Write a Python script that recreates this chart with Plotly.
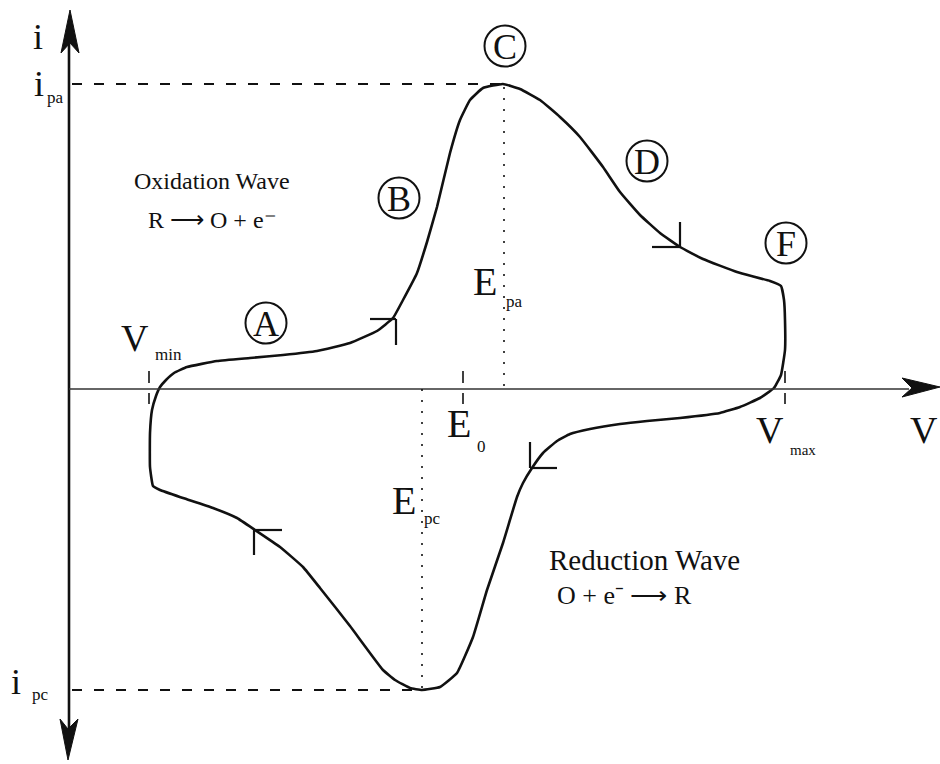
import plotly.graph_objects as go

# Cyclic voltammogram (schematic units)
scan_v = [0.84, 0.81, 0.81, 0.83, 0.87, 0.91, 0.97, 1.05, 1.18, 1.48, 1.81, 2.14, 2.48, 2.81,
          3.08, 3.24, 3.34, 3.48, 3.58, 3.68, 3.81, 3.91, 4.01, 4.14, 4.34, 4.51, 4.71, 4.91,
          5.11, 5.34, 5.51, 5.71, 5.91, 6.11, 6.34, 6.68, 7.01, 7.12, 7.15, 7.16, 7.16, 7.12,
          7.05, 6.91, 6.71, 6.51, 6.11, 5.78, 5.51, 5.21, 5.01, 4.88, 4.74, 4.63, 4.54, 4.48,
          4.34, 4.18, 4.04, 3.88, 3.71, 3.53, 3.41, 3.26, 3.14, 2.81, 2.51, 2.34, 2.11, 1.86,
          1.68, 1.44, 1.14, 0.91, 0.84]
scan_i = [-0.97, -0.78, -0.44, -0.21, -0.07, 0.02, 0.09, 0.16, 0.22, 0.28, 0.31, 0.34, 0.38, 0.46,
          0.58, 0.71, 0.89, 1.16, 1.47, 1.82, 2.36, 2.69, 2.89, 3.01, 3.05, 3.00, 2.89, 2.72,
          2.52, 2.22, 1.97, 1.74, 1.56, 1.42, 1.30, 1.17, 1.08, 1.03, 0.89, 0.69, 0.39, 0.14,
          0.01, -0.09, -0.18, -0.24, -0.29, -0.32, -0.35, -0.40, -0.45, -0.52, -0.64, -0.79, -0.94, -1.08,
          -1.54, -2.01, -2.48, -2.84, -2.98, -3.01, -2.99, -2.91, -2.81, -2.37, -1.99, -1.78, -1.58, -1.41,
          -1.29, -1.19, -1.09, -1.01, -0.97]

V_MIN = 0.80
V_MAX = 7.16
E_0 = 3.94
E_PA = 4.34
E_PC = 3.53
I_PA = 3.05
I_PC = -3.01

# Circled stage labels: letter, V, i
stage_letters = ["A", "B", "C", "D", "F"]
stage_v = [1.97, 3.30, 4.36, 5.78, 7.17]
stage_i = [0.66, 1.91, 3.43, 2.28, 1.46]

# Scan-direction markers: corner point and the two arm ends
dir_corner = [(3.27, 0.70), (6.11, 1.42), (4.61, -0.79), (1.85, -1.41)]
dir_arm_h = [(3.01, 0.70), (5.83, 1.42), (4.88, -0.79), (2.13, -1.41)]
dir_arm_v = [(3.27, 0.44), (6.11, 1.67), (4.61, -0.53), (1.85, -1.66)]

SERIF = "Liberation Serif, Times New Roman, serif"
INK = "#111111"

fig = go.Figure()
fig.add_trace(go.Scatter(x=scan_v, y=scan_i, mode="lines",
                         line=dict(color=INK, width=2.6, shape="spline", smoothing=0.35),
                         hoverinfo="skip", showlegend=False))

shapes = []
# axes
shapes.append(dict(type="line", x0=0, x1=0, y0=3.45, y1=-3.40, line=dict(color=INK, width=2.6)))
shapes.append(dict(type="line", x0=0, x1=8.40, y0=0, y1=0, line=dict(color="#333333", width=1.6)))
shapes.append(dict(type="path", path="M 0.01 3.79 L -0.08 3.36 L 0.01 3.46 L 0.10 3.36 Z",
                   fillcolor=INK, line=dict(color=INK, width=1)))
shapes.append(dict(type="path", path="M -0.01 -3.71 L -0.09 -3.30 L -0.01 -3.40 L 0.09 -3.30 Z",
                   fillcolor=INK, line=dict(color=INK, width=1)))
shapes.append(dict(type="path", path="M 8.71 0.02 L 8.33 0.11 L 8.43 0.01 L 8.33 -0.08 Z",
                   fillcolor=INK, line=dict(color=INK, width=1)))

# peak current guides
shapes.append(dict(type="line", x0=0.03, x1=E_PA, y0=I_PA, y1=I_PA,
                   line=dict(color=INK, width=1.8, dash="10px,12px")))
shapes.append(dict(type="line", x0=0.03, x1=E_PC - 0.05, y0=I_PC, y1=I_PC,
                   line=dict(color=INK, width=1.8, dash="10px,12px")))
# peak potential guides
shapes.append(dict(type="line", x0=E_PA + 0.01, x1=E_PA + 0.01, y0=I_PA - 0.03, y1=0,
                   line=dict(color=INK, width=1.6, dash="2px,9px")))
shapes.append(dict(type="line", x0=E_PC, x1=E_PC, y0=0, y1=I_PC,
                   line=dict(color=INK, width=1.6, dash="2px,9px")))

# potential ticks
for v in (V_MIN, E_0, V_MAX):
    shapes.append(dict(type="line", x0=v, x1=v, y0=0.18, y1=0.06, line=dict(color=INK, width=1.6)))
    shapes.append(dict(type="line", x0=v, x1=v, y0=-0.04, y1=-0.15, line=dict(color=INK, width=1.6)))

# direction markers
for c, h, vv in zip(dir_corner, dir_arm_h, dir_arm_v):
    shapes.append(dict(type="line", x0=c[0], y0=c[1], x1=h[0], y1=h[1], line=dict(color=INK, width=2.2)))
    shapes.append(dict(type="line", x0=c[0], y0=c[1], x1=vv[0], y1=vv[1], line=dict(color=INK, width=2.2)))

# stage circles
R = 0.205
for v, i in zip(stage_v, stage_i):
    shapes.append(dict(type="circle", x0=v - R, x1=v + R, y0=i - R, y1=i + R,
                       line=dict(color=INK, width=2.0)))

ann = []


def label(x, y, text, size):
    ann.append(dict(x=x, y=y, text=text, showarrow=False, xanchor="center", yanchor="middle",
                    font=dict(family=SERIF, size=size, color=INK)))


for s, v, i in zip(stage_letters, stage_v, stage_i):
    label(v, i - 0.01, s, 36)

label(-0.31, 3.52, "i", 36)
label(-0.30, 3.05, "i", 36)
label(-0.14, 2.92, "pa", 17)
label(-0.53, -2.93, "i", 36)
label(-0.29, -3.05, "pc", 17)

label(0.66, 0.51, "V", 38)
label(0.99, 0.35, "min", 17)
label(4.16, 1.08, "E", 40)
label(4.45, 0.88, "pa", 17)
label(3.90, -0.34, "E", 40)
label(4.12, -0.57, "0", 17)
label(3.35, -1.11, "E", 40)
label(3.63, -1.29, "pc", 17)
label(7.01, -0.41, "V", 38)
label(7.34, -0.61, "max", 15)
label(8.55, -0.41, "V", 38)

label(1.43, 2.08, "Oxidation Wave", 24)
label(1.43, 1.69, "R ⟶ O + e⁻", 24)
label(5.75, -1.71, "Reduction Wave", 29)
label(5.55, -2.06, "O + e⁻ ⟶ R", 26)

fig.update_layout(
    width=940, height=764,
    margin=dict(l=0, r=0, t=0, b=0),
    paper_bgcolor="white", plot_bgcolor="white",
    xaxis=dict(range=[-0.69, 8.71], visible=False, fixedrange=True),
    yaxis=dict(range=[-3.75, 3.89], visible=False, fixedrange=True),
    shapes=shapes, annotations=ann, showlegend=False,
)

fig.write_html("out.html")
